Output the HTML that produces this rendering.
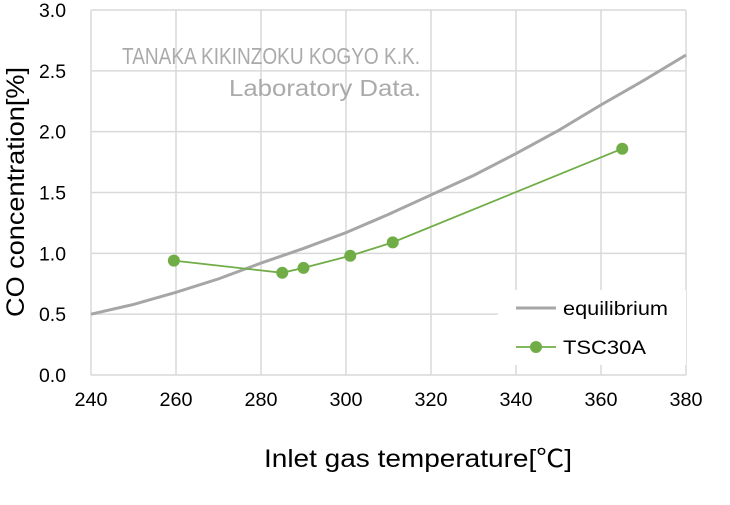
<!DOCTYPE html>
<html><head><meta charset="utf-8"><style>
body{margin:0;background:#fff}
svg text{font-family:"Liberation Sans","Noto Sans CJK JP",sans-serif}
</style></head><body>
<svg id="c" width="730" height="500"></svg>
<script>
const xTicks=[240,260,280,300,320,340,360,380];
const yTicks=[0,0.5,1,1.5,2,2.5,3];
const eqX=[240,250,260,270,280,290,300,310,320,330,340,350,360,370,380];
const eqY=[0.5,0.58,0.68,0.79,0.92,1.04,1.17,1.32,1.48,1.64,1.82,2.01,2.22,2.42,2.63];
const tscX=[259.5,285,290,301,311,365];
const tscY=[0.94,0.84,0.88,0.98,1.09,1.86];
const L=91,R=686,T=10,B=375;
const sx=v=>L+(v-240)/(380-240)*(R-L);
const sy=v=>B-(v/3)*(B-T);
const svg=document.getElementById('c');
const NS='http://www.w3.org/2000/svg';
function mk(tag,attrs,txt){const e=document.createElementNS(NS,tag);for(const k in attrs)e.setAttribute(k,attrs[k]);if(txt!=null)e.textContent=txt;svg.appendChild(e);return e;}
yTicks.forEach(v=>{
 const g=mk('line',{x1:L,x2:R,y1:sy(v),y2:sy(v),stroke:'#d9d9d9','stroke-width':1.5});
 
 
 const t=mk('text',{x:66,y:sy(v)+7,'text-anchor':'end','font-size':19,fill:'#000',transform:'',textLength:27,lengthAdjust:'spacingAndGlyphs'},v.toFixed(1));
 
 
});
xTicks.forEach(v=>{
 const g=mk('line',{x1:sx(v),x2:sx(v),y1:T,y2:B,stroke:'#d9d9d9','stroke-width':1.5});
 
 
 const t=mk('text',{x:sx(v),y:406,'text-anchor':'middle','font-size':19,fill:'#000',textLength:33,lengthAdjust:'spacingAndGlyphs'},String(v));
 
 
});
const w1=mk('text',{x:122,y:64,'font-size':23,fill:'#aaa',textLength:298,lengthAdjust:'spacingAndGlyphs'},'TANAKA KIKINZOKU KOGYO K.K.');


const w2=mk('text',{x:229,y:96,'font-size':23,fill:'#aaa',textLength:192,lengthAdjust:'spacingAndGlyphs'},'Laboratory Data.');


const eq=mk('polyline',{points:eqX.map((x,i)=>sx(x)+','+sy(eqY[i])).join(' '),fill:'none',stroke:'#a6a6a6','stroke-width':3});


const ts=mk('polyline',{points:tscX.map((x,i)=>sx(x)+','+sy(tscY[i])).join(' '),fill:'none',stroke:'#70ad47','stroke-width':1.8});


tscX.forEach((x,i)=>{
 const c=mk('circle',{cx:sx(x),cy:sy(tscY[i]),r:6,fill:'#70ad47'});
 
 
});
const lb=mk('rect',{x:498,y:290,width:188,height:75,fill:'#fff'});


const l1=mk('line',{x1:516,x2:556,y1:308,y2:308,stroke:'#a6a6a6','stroke-width':3});


const lt1=mk('text',{x:563,y:315,'font-size':19,fill:'#000',textLength:105,lengthAdjust:'spacingAndGlyphs'},'equilibrium');


const l2=mk('line',{x1:516,x2:556,y1:347,y2:347,stroke:'#70ad47','stroke-width':1.8});


const lc=mk('circle',{cx:536,cy:347,r:6,fill:'#70ad47'});


const lt2=mk('text',{x:563,y:354,'font-size':19,fill:'#000',textLength:83,lengthAdjust:'spacingAndGlyphs'},'TSC30A');


const xt=mk('text',{x:418,y:467,'text-anchor':'middle','font-size':25,fill:'#000',textLength:308,lengthAdjust:'spacingAndGlyphs'},'Inlet gas temperature[℃]');


const yt=mk('text',{x:0,y:0,'text-anchor':'middle','font-size':25,fill:'#000',textLength:250,lengthAdjust:'spacingAndGlyphs',transform:'translate(24,192) rotate(-90)'},'CO concentration[%]');


</script>
</body></html>
